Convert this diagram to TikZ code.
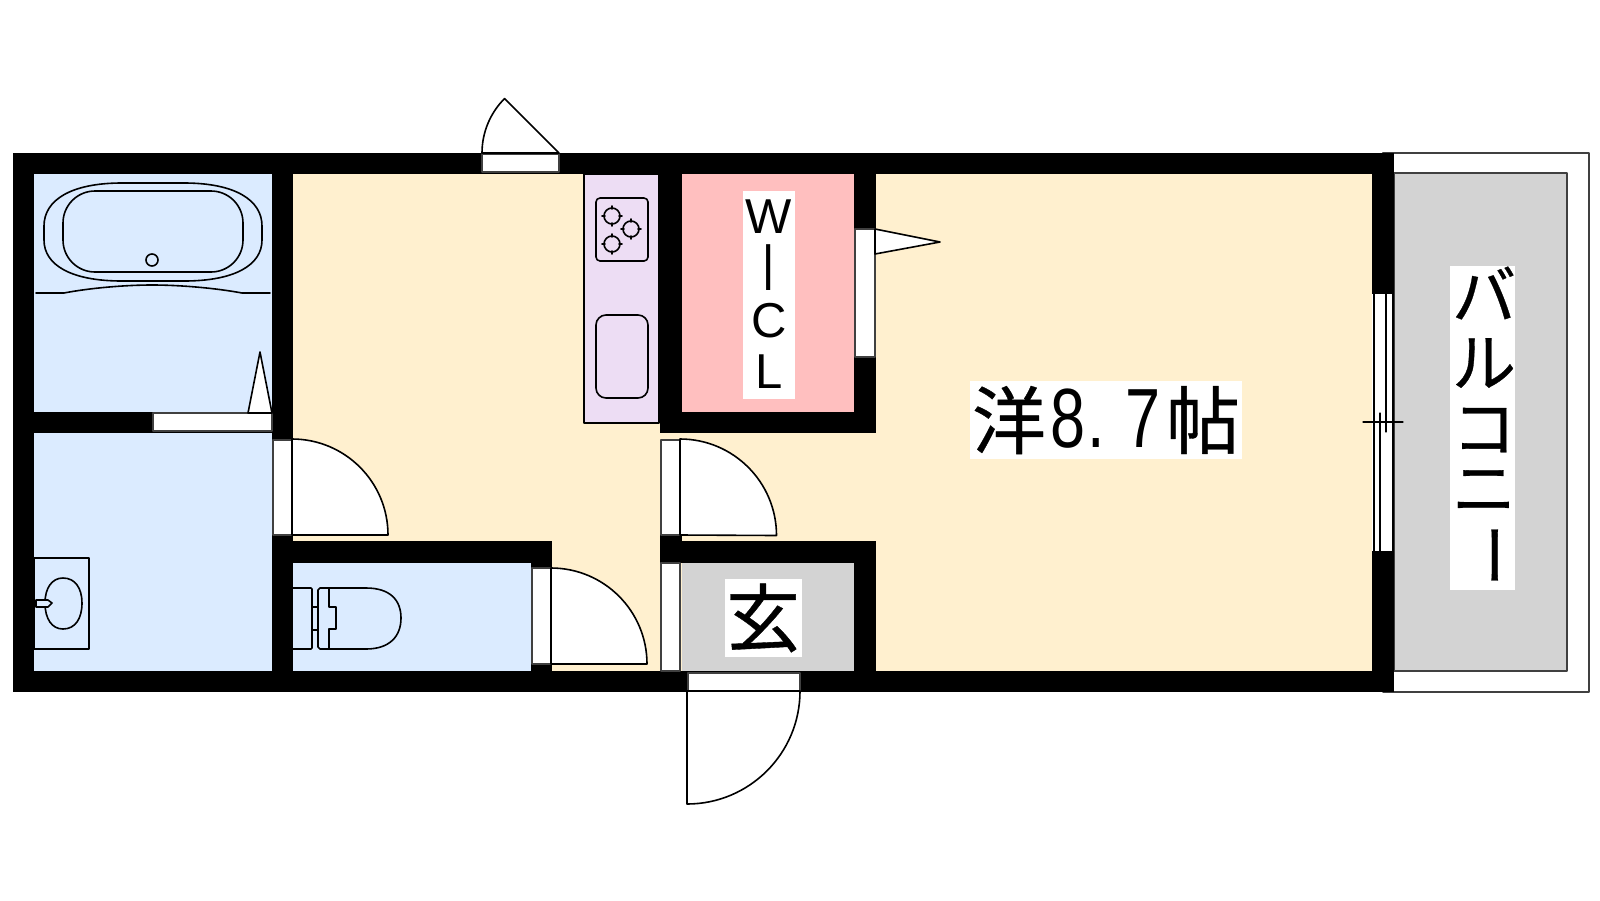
\documentclass[tikz,border=0pt]{standalone}
\usepackage{fontspec}
\setmainfont{Liberation Sans}
\newfontfamily\cjk[FakeBold=0.5]{Noto Sans CJK JP}
\definecolor{wetblue}{HTML}{DBEBFF}
\definecolor{roomcream}{HTML}{FFF0CF}
\definecolor{kitchenlilac}{HTML}{EDDDF4}
\definecolor{closetpink}{HTML}{FFBFBF}
\definecolor{floorgray}{HTML}{D3D3D3}
\begin{document}
\begin{tikzpicture}[x=0.5pt,y=-0.5pt,line cap=round,line join=round,
	wall/.style={fill=black},
	fitting/.style={draw=black,line width=0.8pt},
	opening/.style={fill=white,draw=black!75,line width=0.7pt},
	leaf/.style={fill=white,draw=black,line width=0.8pt},
	label/.style={inner sep=0pt,text=black}]
	\useasboundingbox (0,0) rectangle (1600,900);
	% floors
	\fill[roomcream] (293,174) rectangle (1372,671);
	\fill[wetblue] (34,174) rectangle (272,671);
	\fill[wetblue] (293,563) rectangle (531,671);
	\fill[closetpink] (682,174) rectangle (854,412);
	\fill[floorgray] (682,563) rectangle (854,671);
	% balcony
	\draw[opening,fill=white] (1383,153) rectangle (1589,692);
	\draw[opening,fill=floorgray] (1394,173) rectangle (1567,671);
	% walls
	\fill[wall] (13,153) rectangle (1394,174);
	\fill[wall] (13,671) rectangle (1394,692);
	\fill[wall] (13,153) rectangle (34,692);
	\fill[wall] (272,153) rectangle (293,692);
	\fill[wall] (34,412) rectangle (272,433);
	\fill[wall] (660,153) rectangle (682,433);
	\fill[wall] (660,412) rectangle (876,433);
	\fill[wall] (854,153) rectangle (876,433);
	\fill[wall] (660,535) rectangle (682,563);
	\fill[wall] (660,541) rectangle (876,563);
	\fill[wall] (854,541) rectangle (876,692);
	\fill[wall] (272,541) rectangle (552,563);
	\fill[wall] (531,541) rectangle (552,671);
	\fill[wall] (1372,153) rectangle (1394,692);
	% openings
	\draw[opening] (482,154) rectangle (559,172);
	\draw[opening] (153,413) rectangle (272,431);
	\draw[opening] (855,229) rectangle (875,357);
	\draw[opening] (273,440) rectangle (292,535);
	\draw[opening] (661,440) rectangle (680,535);
	\draw[opening] (532,568) rectangle (551,664);
	\draw[opening] (661,563) rectangle (680,671);
	\draw[opening] (688,673) rectangle (800,691);
	% door leaves
	\draw[leaf] (482,153) arc[start angle=180,end angle=225,radius=77] -- (559,153) -- cycle;
	\draw[leaf] (248,413) -- (260,352) -- (272,413) -- cycle;
	\draw[leaf] (875,229) -- (940,242) -- (875,254) -- cycle;
	\draw[leaf] (292,439) arc[start angle=-90,end angle=0,radius=96] -- (292,535) -- cycle;
	\draw[leaf] (680,439) arc[start angle=-90,end angle=0,radius=96.5] -- (680,535) -- cycle;
	\draw[leaf] (551,568) arc[start angle=-90,end angle=0,radius=96] -- (551,664) -- cycle;
	\draw[leaf] (800,691) arc[start angle=0,end angle=90,radius=113] -- (687,691) -- cycle;
	% window
	\fill[white] (1372,294) rectangle (1394,551);
	\draw[fitting,line width=0.6pt] (1374,294) -- (1374,551);
	\draw[fitting,line width=0.6pt] (1380,413) -- (1380,551);
	\draw[fitting,line width=0.6pt] (1386,294) -- (1386,432);
	\draw[fitting,line width=0.6pt] (1393,294) -- (1393,551);
	\draw[fitting,line width=0.6pt] (1363,422) -- (1403,422);
	% bath
	\draw[fitting] (122,183) -- (184,183) .. controls (235,183) and (262,200) .. (262,226) -- (262,240) .. controls (262,265) and (235,281) .. (184,281) -- (122,281) .. controls (71,281) and (44,265) .. (44,240) -- (44,226) .. controls (44,200) and (71,183) .. (122,183) -- cycle;
	\draw[fitting,rounded corners=16pt] (63,191) rectangle (243,272);
	\draw[fitting] (152,260) circle (6);
	\draw[fitting] (36,293) -- (64,293) .. controls (90,288) and (125,285) .. (152,285) .. controls (180,285) and (215,288) .. (242,293) -- (270,293);
	% washstand
	\draw[fitting] (34,558) rectangle (89,649);
	\draw[fitting] (63,578) .. controls (75,578) and (82,588) .. (82,603) .. controls (82,619) and (75,629) .. (63,629) .. controls (52,629) and (45,619) .. (45,603) .. controls (45,588) and (52,578) .. (63,578) -- cycle;
	\draw[fitting,fill=wetblue] (36,600) -- (48,600) -- (52,603) -- (48,607) -- (36,607) -- cycle;
	% toilet
	\draw[fitting] (293,588) -- (311,588) -- (312,589) -- (312,648) -- (311,649) -- (293,649);
	\draw[fitting] (312,607) rectangle (318,630);
	\draw[fitting] (320,588) -- (366,588) .. controls (390,588) and (401,600) .. (401,618) .. controls (401,636) and (390,649) .. (366,649) -- (320,649) -- (318,647) -- (318,590) -- cycle;
	\draw[fitting] (329,588) -- (329,607) -- (336,607) -- (336,629) -- (329,629) -- (329,649);
	% kitchen
	\draw[fitting,fill=kitchenlilac,line width=0.6pt] (584,174) rectangle (659,423);
	\draw[fitting,rounded corners=2pt] (596,198) rectangle (648,261);
	\foreach \bx/\by in {612/216,631/229,612/244} {
		\draw[fitting,shift={(\bx,\by)}] (0,0) circle (8);
		\draw[fitting,shift={(\bx,\by)}] (-10,0) -- (-7,0) (7,0) -- (10,0) (0,-10) -- (0,-7) (0,7) -- (0,10);
	}
	\draw[fitting,rounded corners=5pt] (596,315) rectangle (648,398);
	% labels
	\fill[white] (743,191) rectangle (795,399);
	\foreach \n/\t/\y in {w/W/233,i/\scalebox{0.9}[1.36]{I}/290,c/C/337,l/L/388}
	\node[label,anchor=base,font=\fontsize{24.5}{24.5}\selectfont] (wic\n) at (769,\y) {\t};
	\fill[white] (725,579) rectangle (802,657);
	\node[label,font=\cjk\fontsize{37}{37}\selectfont] (entry) at (763,618) {玄};
	\fill[white] (970,381) rectangle (1242,459);
	\node[label,font=\cjk\fontsize{37}{37}\selectfont] (youshitsu) at (1009,420) {洋};
	\foreach \n/\t/\x in {a/8/1068,b/./1096,c/7/1143}
	\node[label,anchor=base,font=\fontsize{42}{42}\selectfont] (size\n) at (\x,447) {\scalebox{0.75}[1]{\t}};
	\node[label,font=\cjk\fontsize{37}{37}\selectfont] (cho) at (1203,420) {帖};
	\fill[white] (1450,266) rectangle (1515,590);
	\foreach \n/\t/\y in {a/バ/293,b/ル/363,c/コ/430,d/ニ/491,e/\rotatebox{-90}{ー}/555}
	\node[label,font=\cjk\fontsize{32}{32}\selectfont] (balcony\n) at (1484,\y) {\t};
\end{tikzpicture}
\end{document}
